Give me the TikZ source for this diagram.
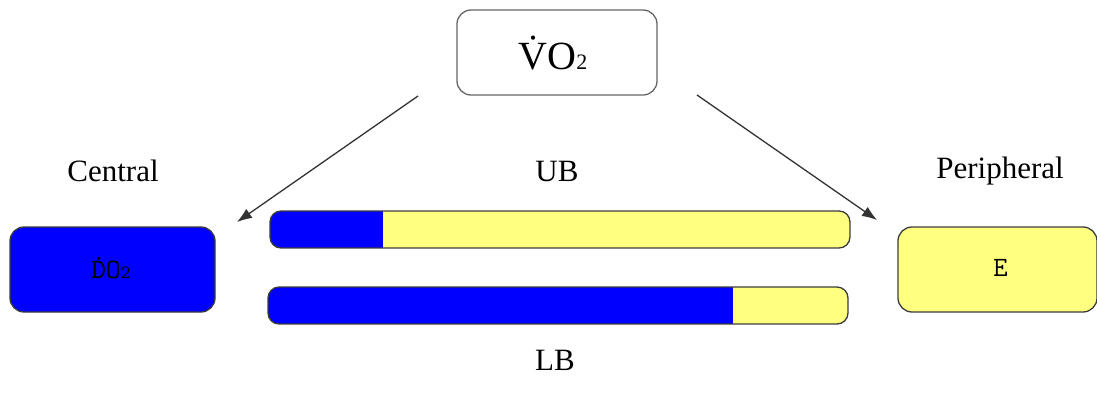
\documentclass[tikz,border=0pt]{standalone}
\usepackage{fontspec}
\setmainfont{Liberation Serif}
\usetikzlibrary{arrows.meta}
\definecolor{pblue}{RGB}{0,0,255}
\definecolor{pyellow}{RGB}{255,255,128}
\definecolor{pborder}{RGB}{60,60,60}
\newcommand{\mydotover}[1]{\leavevmode\hbox{\ooalign{#1\cr\hidewidth\raisebox{0.62em}{.}\hidewidth\cr}}}
\tikzset{
  rbox/.style={draw=pborder, line width=1.3pt, rounded corners=14pt, minimum width=#1, minimum height=85pt, inner sep=0pt},
  lbl/.style={font=\fontsize{31}{34}\selectfont, inner sep=0pt},
  arr/.style={draw=black!80, line width=1.3pt, -{Latex[length=15pt,width=11pt]}},
  barout/.style={draw=pborder, line width=1.3pt, rounded corners=11pt}
}
\begin{document}
\begin{tikzpicture}[x=1pt,y=-1pt]
\useasboundingbox (0,0) rectangle (1097,400);
% top box
\node[rbox=200pt, draw=black!60, fill=white, font=\fontsize{40}{42}\selectfont, text depth=0pt] (vo) at (557,52.5) {\hspace*{-8pt}\.{V}O{\fontsize{22}{24}\selectfont 2}};
% side boxes
\node[rbox=205pt, fill=pblue, font=\ttfamily\fontsize{28}{30}\selectfont] (do) at (112.5,269.5) {\hspace*{-3pt}\mydotover{D}O{\fontsize{19}{20}\selectfont 2}};
\node[rbox=199pt, fill=pyellow, font=\ttfamily\fontsize{28}{30}\selectfont] (e) at (997.5,269.5) {\hspace*{6pt}\raisebox{4pt}{E}};
% labels
\node[lbl] (central) at (113,171) {Central};
\node[lbl] (ub) at (557,171) {UB};
\node[lbl] (periph) at (1000,171) {Peripheral};
\node[lbl] (lb) at (555,360) {LB};
% bars
\begin{scope}
\clip[rounded corners=11pt] (270,211) rectangle (850,248);
\fill[pyellow] (270,211) rectangle (850,248);
\fill[pblue] (270,211) rectangle (383,248);
\end{scope}
\draw[barout] (270,211) rectangle (850,248);
\begin{scope}
\clip[rounded corners=11pt] (268,287) rectangle (848,324);
\fill[pyellow] (268,287) rectangle (848,324);
\fill[pblue] (268,287) rectangle (733,324);
\end{scope}
\draw[barout] (268,287) rectangle (848,324);
% arrows
\coordinate (a1s) at (418,96);
\coordinate (a1e) at (237,222);
\coordinate (a2s) at (697,95);
\coordinate (a2e) at (877,220);
\draw[arr] (a1s) -- (a1e);
\draw[arr] (a2s) -- (a2e);
\end{tikzpicture}
\end{document}
